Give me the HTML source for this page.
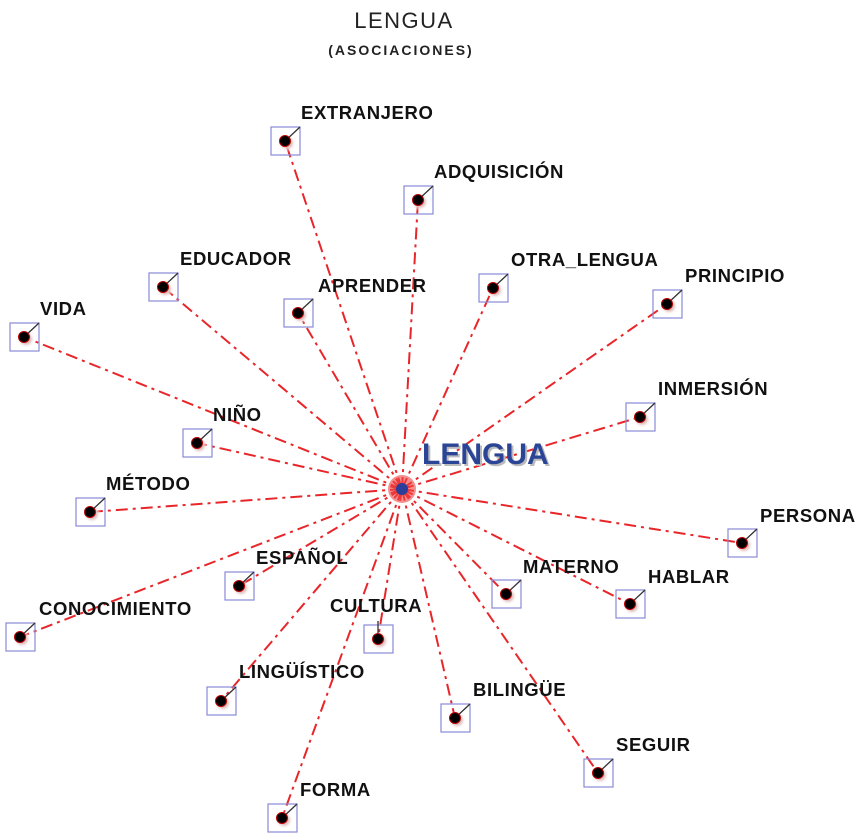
<!DOCTYPE html>
<html><head><meta charset="utf-8"><style>
html,body{margin:0;padding:0;background:#fff;}
svg{display:block;}
text{font-family:"Liberation Sans",Arial,sans-serif;}
.l{font-size:18.5px;font-weight:bold;fill:#111;letter-spacing:0.6px;}
.e{stroke:#e8262a;stroke-width:2;stroke-dasharray:12,5,3,5;fill:none;}
.b{fill:none;stroke:#8a8ad8;stroke-width:1.2;}
.t{stroke:#333;stroke-width:1.3;}
</style></head><body>
<svg width="864" height="840" viewBox="0 0 864 840" xmlns="http://www.w3.org/2000/svg">
<defs>
<radialGradient id="g"><stop offset="0.5" stop-color="#e0c0c0"/><stop offset="1" stop-color="#fff" stop-opacity="0"/></radialGradient>
<g id="n"><rect class="b" x="-14" y="-14" width="29" height="28"/><circle cx="2" cy="2" r="9" fill="url(#g)"/><line class="t" x1="0" y1="0" x2="15" y2="-14"/><circle r="5.5" fill="#000" stroke="#b00" stroke-width="1"/></g>
<g id="c"><rect class="b" x="-14" y="-14" width="29" height="28"/><circle cx="2" cy="2" r="9" fill="url(#g)"/><line class="t" x1="0" y1="0" x2="0" y2="-18"/><circle r="5.5" fill="#000" stroke="#b00" stroke-width="1"/></g>
</defs>
<text x="404" y="28" text-anchor="middle" font-size="22" letter-spacing="1.5" fill="#222">LENGUA</text>
<text x="401" y="55" text-anchor="middle" font-size="14" font-weight="bold" letter-spacing="2" fill="#222">(ASOCIACIONES)</text>
<g class="e">
<line x1="402" y1="489" x2="285" y2="141"/>
<line x1="402" y1="489" x2="418" y2="200"/>
<line x1="402" y1="489" x2="163" y2="287"/>
<line x1="402" y1="489" x2="298" y2="313"/>
<line x1="402" y1="489" x2="493" y2="288"/>
<line x1="402" y1="489" x2="667" y2="304"/>
<line x1="402" y1="489" x2="24" y2="337"/>
<line x1="402" y1="489" x2="640" y2="417"/>
<line x1="402" y1="489" x2="197" y2="443"/>
<line x1="402" y1="489" x2="90" y2="512"/>
<line x1="402" y1="489" x2="742" y2="543"/>
<line x1="402" y1="489" x2="239" y2="586"/>
<line x1="402" y1="489" x2="506" y2="594"/>
<line x1="402" y1="489" x2="630" y2="604"/>
<line x1="402" y1="489" x2="20" y2="637"/>
<line x1="402" y1="489" x2="378" y2="639"/>
<line x1="402" y1="489" x2="221" y2="701"/>
<line x1="402" y1="489" x2="455" y2="718"/>
<line x1="402" y1="489" x2="598" y2="773"/>
<line x1="402" y1="489" x2="282" y2="818"/>
</g>
<circle cx="402" cy="489" r="14" fill="#ee4444" opacity="0.6"/>
<circle cx="402" cy="489" r="6" fill="#2b3f9a"/>
<text x="424" y="466" font-size="30" font-weight="bold" fill="#bbb">LENGUA</text>
<text x="422" y="464" font-size="30" font-weight="bold" fill="#2b4596">LENGUA</text>
<use href="#n" x="285" y="141"/><text class="l" x="301" y="119">EXTRANJERO</text>
<use href="#n" x="418" y="200"/><text class="l" x="434" y="178">ADQUISICIÓN</text>
<use href="#n" x="163" y="287"/><text class="l" x="180" y="265">EDUCADOR</text>
<use href="#n" x="298" y="313"/><text class="l" x="318" y="292">APRENDER</text>
<use href="#n" x="493" y="288"/><text class="l" x="511" y="266">OTRA_LENGUA</text>
<use href="#n" x="667" y="304"/><text class="l" x="685" y="282">PRINCIPIO</text>
<use href="#n" x="24" y="337"/><text class="l" x="40" y="315">VIDA</text>
<use href="#n" x="640" y="417"/><text class="l" x="658" y="395">INMERSIÓN</text>
<use href="#n" x="197" y="443"/><text class="l" x="213" y="421">NIÑO</text>
<use href="#n" x="90" y="512"/><text class="l" x="106" y="490">MÉTODO</text>
<use href="#n" x="742" y="543"/><text class="l" x="760" y="522">PERSONA</text>
<use href="#n" x="239" y="586"/><text class="l" x="256" y="564">ESPAÑOL</text>
<use href="#n" x="506" y="594"/><text class="l" x="523" y="573">MATERNO</text>
<use href="#n" x="630" y="604"/><text class="l" x="648" y="583">HABLAR</text>
<use href="#n" x="20" y="637"/><text class="l" x="39" y="615">CONOCIMIENTO</text>
<use href="#c" x="378" y="639"/><text class="l" x="330" y="612">CULTURA</text>
<use href="#n" x="221" y="701"/><text class="l" x="239" y="678">LINGÜÍSTICO</text>
<use href="#n" x="455" y="718"/><text class="l" x="473" y="696">BILINGÜE</text>
<use href="#n" x="598" y="773"/><text class="l" x="616" y="751">SEGUIR</text>
<use href="#n" x="282" y="818"/><text class="l" x="300" y="796">FORMA</text>
</svg>
</body></html>
